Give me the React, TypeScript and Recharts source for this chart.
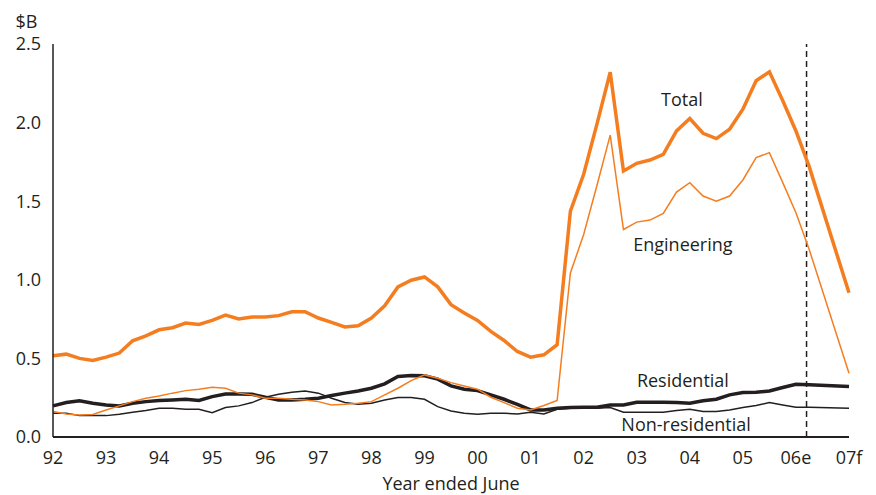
import {
  LineChart,
  Line,
  XAxis,
  YAxis,
  Label,
  ReferenceLine,
  ReferenceDot,
} from "recharts";

// quarterly observations from 92 to mid-06, then the 07 forecast
const yearLabels = ["92", "93", "94", "95", "96", "97", "98", "99", "00", "01", "02", "03", "04", "05", "06e", "07f"];
const yearTicks = [92, 93, 94, 95, 96, 97, 98, 99, 100, 101, 102, 103, 104, 105, 106, 107];

const periods = [
  ...Array.from({ length: 58 }, (_, i) => 92 + i / 4),
  107,
];

const total = [
  0.517, 0.527, 0.5, 0.487, 0.508, 0.534, 0.612, 0.644,
  0.682, 0.695, 0.725, 0.716, 0.742, 0.776, 0.751, 0.763,
  0.763, 0.772, 0.797, 0.797, 0.757, 0.729, 0.7, 0.708,
  0.757, 0.835, 0.955, 0.997, 1.018, 0.955, 0.842, 0.789,
  0.742, 0.672, 0.614, 0.544, 0.508, 0.523, 0.587, 1.437,
  1.671, 1.99, 2.32, 1.692, 1.741, 1.762, 1.798, 1.947,
  2.026, 1.932, 1.898, 1.958, 2.085, 2.266, 2.323, 2.14,
  1.947, 1.72, 0.917,
];

const engineering = [
  0.162, 0.147, 0.14, 0.143, 0.172, 0.198, 0.225, 0.247,
  0.261, 0.279, 0.295, 0.304, 0.317, 0.31, 0.279, 0.268,
  0.247, 0.247, 0.24, 0.236, 0.225, 0.204, 0.208, 0.215,
  0.225, 0.268, 0.31, 0.359, 0.395, 0.374, 0.346, 0.325,
  0.304, 0.253, 0.219, 0.183, 0.172, 0.2, 0.232, 1.044,
  1.288, 1.6, 1.92, 1.32, 1.367, 1.38, 1.422, 1.558,
  1.618, 1.533, 1.5, 1.533, 1.635, 1.777, 1.809, 1.62,
  1.427, 1.193, 0.406,
];

const residential = [
  0.198, 0.219, 0.23, 0.215, 0.204, 0.198, 0.215, 0.225,
  0.232, 0.236, 0.24, 0.232, 0.257, 0.274, 0.274, 0.272,
  0.253, 0.236, 0.236, 0.24, 0.247, 0.264, 0.279, 0.293,
  0.31, 0.338, 0.385, 0.391, 0.389, 0.368, 0.325, 0.304,
  0.295, 0.268, 0.24, 0.208, 0.172, 0.172, 0.183, 0.187,
  0.189, 0.189, 0.204, 0.204, 0.221, 0.221, 0.221, 0.219,
  0.215, 0.23, 0.24, 0.268, 0.283, 0.285, 0.293, 0.315,
  0.336, 0.332, 0.321,
];

const nonResidential = [
  0.151, 0.151, 0.136, 0.136, 0.136, 0.145, 0.157, 0.168,
  0.183, 0.183, 0.177, 0.177, 0.155, 0.187, 0.198, 0.219,
  0.253, 0.272, 0.285, 0.293, 0.279, 0.247, 0.219, 0.208,
  0.215, 0.236, 0.251, 0.251, 0.24, 0.193, 0.166, 0.151,
  0.145, 0.151, 0.151, 0.147, 0.157, 0.147, 0.177, 0.183,
  0.183, 0.183, 0.187, 0.157, 0.157, 0.157, 0.157, 0.168,
  0.177, 0.162, 0.162, 0.172, 0.187, 0.2, 0.219, 0.204,
  0.189, 0.189, 0.183,
];

const data = periods.map((x, i) => ({
  x,
  total: total[i],
  engineering: engineering[i],
  residential: residential[i],
  nonResidential: nonResidential[i],
}));

const ink = "#231f20";
const orange = "#f47d20";

const seriesLabels = [
  { text: "Total", x: 103.85, y: 2.144 },
  { text: "Engineering", x: 103.87, y: 1.221 },
  { text: "Residential", x: 103.87, y: 0.356 },
  { text: "Non-residential", x: 103.93, y: 0.076 },
];

export default function App() {
  return (
    <div
      style={{
        position: "fixed",
        left: 0,
        top: 0,
        width: 876,
        height: 495,
        background: "#fff",
        fontFamily: "'Open Sans', sans-serif",
      }}
    >
      <LineChart
        width={876}
        height={495}
        data={data}
        margin={{ top: 44, right: 27, left: 0, bottom: 0 }}
      >
        <XAxis
          dataKey="x"
          type="number"
          domain={[92, 107]}
          ticks={yearTicks}
          interval={0}
          tickFormatter={(v: number) => yearLabels[yearTicks.indexOf(v)]}
          tickLine={false}
          tickMargin={8}
          height={58}
          axisLine={{ stroke: ink, strokeWidth: 2 }}
          tick={{ fill: ink, fontSize: 18 }}
        >
          <Label
            value="Year ended June"
            position="insideBottom"
            offset={5}
            fill={ink}
            fontSize={18}
          />
        </XAxis>
        <YAxis
          type="number"
          domain={[0, 2.5]}
          ticks={[0, 0.5, 1, 1.5, 2, 2.5]}
          tickFormatter={(v: number) => v.toFixed(1)}
          width={53}
          tickLine={false}
          tickMargin={6}
          axisLine={{ stroke: ink, strokeWidth: 1.5 }}
          tick={{ fill: ink, fontSize: 18 }}
        >
          <Label value="$B" position="top" offset={16} fill={ink} fontSize={18} />
        </YAxis>

        <ReferenceLine
          x={106.2}
          stroke={ink}
          strokeWidth={1.5}
          strokeDasharray="6 4"
        />

        <Line
          dataKey="nonResidential"
          stroke={ink}
          strokeWidth={1.5}
          dot={false}
          isAnimationActive={false}
        />
        <Line
          dataKey="residential"
          stroke={ink}
          strokeWidth={3.5}
          dot={false}
          isAnimationActive={false}
        />
        <Line
          dataKey="engineering"
          stroke={orange}
          strokeWidth={1.5}
          dot={false}
          isAnimationActive={false}
        />
        <Line
          dataKey="total"
          stroke={orange}
          strokeWidth={3.5}
          dot={false}
          isAnimationActive={false}
        />

        {seriesLabels.map((s) => (
          <ReferenceDot
            key={s.text}
            x={s.x}
            y={s.y}
            r={0}
            fill="none"
            stroke="none"
            label={{ value: s.text, position: "center", fill: ink, fontSize: 18 }}
          />
        ))}
      </LineChart>
    </div>
  );
}
